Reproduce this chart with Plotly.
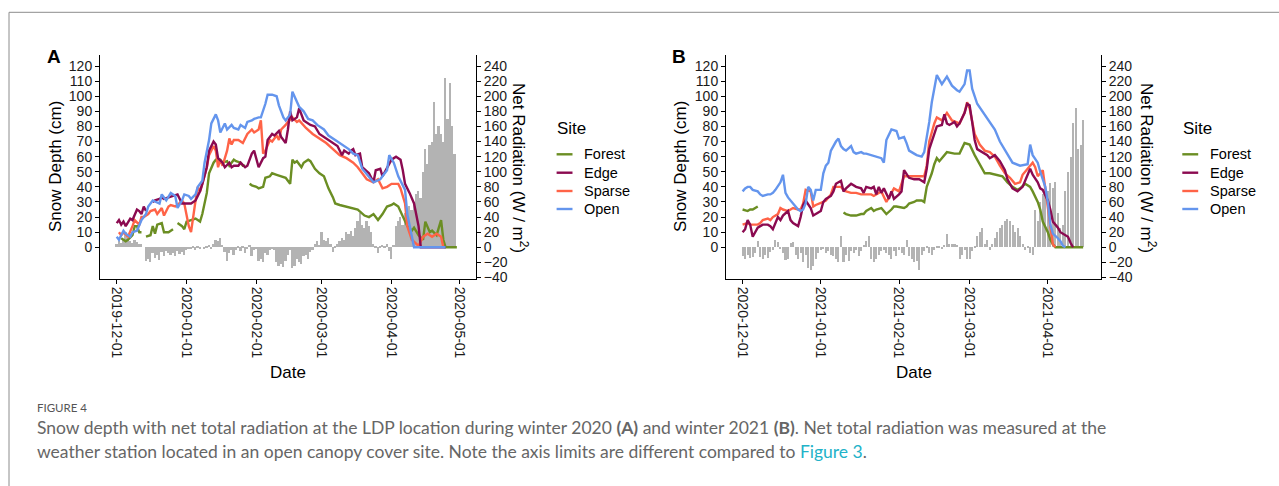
import pandas as pd
import plotly.graph_objects as go

W, H = 1279, 486

# ---------------- data ----------------
START_A = "2019-12-01"
START_B = "2020-12-01"

# daily net radiation (W/m2), one value per day from the start date
RAD_A = [5, 8, 6, 10, 20, 12, 8, 6, 10, 7, 5, 4, 0,
         -18, -15, -19, -8, -14, -10, -17, -6, -12, -5,
         -8, -10, -7, -12, -5, -9, -6, -10, -3,
         -2, -1, 2, -3, 1, -1, 0, -2, 2, 3, -1, 5,
         10, 8, 12, 3,
         -6, -18, -8, -4, -10,
         -3, 2, -5, 1, -8, -2, 3, -12, -4, -2,
         -18, -15, -20, -8, -10,
         -3, -1, -4,
         -20, -25, -22, -26, -18, -10, -3,
         -28, -25, -15, -20, -22,
         -12, -10, -15, -6, -3,
         5, 8, 3,
         20, 10, 8, 12,
         5, -6, 2,
         5, 8, 12, 10,
         20, 18, 22, 15, 25, 35,
         45, 30, 25,
         35, 28, 20,
         4, 2, -8,
         2, 3, 1, 4,
         -5, -15,
         3, 28,
         35, 40, 30,
         45, 40, 55, 50,
         60, 70, 75, 65,
         100, 130, 110,
         135, 140,
         193, 150, 160, 150, 140, 224, 170, 217, 160, 124]

RAD_B = [-12, -15, -10, -14, -13, -8, 8, -13, -15, -10,
         -14, -6, -3, 10, 7, -2, -8, -17, -15, 6,
         7, -10, -15, -8, -20, -10, -28, -30, -25, -15,
         -8, -3, -2, -8, -5, -10, -12, -15, -20, 15,
         -20, -10, -18, -5, -8, -3, -12, -5, 3, 8,
         15, -15, -20, -15, -10, -5, -3, -8, -10, -15,
         -5, -12, -3, -8, -10, 10, -12, -15, -20, -18,
         -30, -10, -5, 2, -8, -10, -3, 2, 1, -2,
         3, 18, 5, 5, 4, 3, -15, -10, -3, -15,
         -15, -5, 2, 15, 20, 25, 5, 10, -3, 5,
         12, 20, 25, 30, 35, 38, 35, 30, 20, 25,
         15, 5, -3, 2, -8, -10, 50, 35, 60, 70,
         80, 75, 85, 78, 87, 45, 25, 30, 75, 100,
         120, 165, 185, 130, 135, 168]

# snow depth (cm): (day since start, depth); None = missing
FOREST_A = [(2, 6), (4, 4), (5, 5), (7, 8), (8, 14), (9, 14), (10, 10), (11, 10), (12, None),
            (13, 7), (15, 8), (16, 14), (17, 9), (18, 15), (20, 16), (21, 10), (23, 10), (25, 12), (26, None),
            (27, 16), (29, 14), (30, 12), (31, 17), (33, 18), (35, 19), (37, 17), (38, 22), (40, 36),
            (41, 49), (43, 56), (44, 58), (46, 58), (47, 56), (49, 57), (50, 54), (52, 58), (53, 57),
            (55, 56), (56, 54), (57, 54), (58, None),
            (59, 42), (60, 41), (62, 40), (63, 39), (65, 40), (66, 46), (68, 47), (69, 49), (71, 48),
            (73, 47), (75, 46), (77, 42), (78, 58), (79, 56), (80, 57), (82, 53), (83, 56), (85, 58),
            (86, 57), (88, 52), (90, 49), (92, 47), (94, 39), (96, 33), (97, 29), (99, 28), (102, 27),
            (105, 26), (107, 25), (110, 21), (112, 20), (114, 22), (116, 18), (118, 22), (120, 27),
            (122, 28), (123, 29), (125, 27), (127, 21), (129, 14), (131, 11), (132, 13), (134, 8),
            (136, 5), (137, 17), (139, 10), (140, 11), (142, 8), (144, 18), (145, 5), (146, 0), (151, 0)]

EDGE_A = [(0, 16), (1, 18), (2, 15), (3, 17), (4, 14), (6, 19), (7, 18), (9, 25), (10, 24), (11, 22),
          (12, 27), (13, 24), (14, None), (16, 30), (17, 31), (19, 32), (20, 33), (21, 32), (23, 33),
          (26, 35), (27, 35), (29, 29), (31, 29), (33, 29), (35, 31), (37, 37), (38, 42), (40, 53),
          (41, 64), (43, 70), (44, 68), (45, 59), (47, 56), (48, 53), (50, 56), (51, 53), (52, 54),
          (54, 54), (55, 56), (57, 53), (58, 54), (60, 62), (61, 64), (62, 59), (63, 53), (65, 59),
          (66, 60), (67, 71), (69, 75), (70, 74), (72, 77), (73, 73), (75, 69), (76, 78), (77, 90),
          (78, 84), (80, 86), (81, 92), (83, 84), (86, 81), (88, 80), (90, 75), (92, 73), (94, 71),
          (96, 69), (98, 67), (100, 61), (101, 64), (103, 62), (104, 64), (105, 65), (106, 61),
          (108, 62), (109, 53), (112, 49), (114, 43), (115, 51), (117, 52), (118, 47), (120, 53),
          (122, 58), (124, 60), (126, 58), (127, 51), (128, 42), (130, 36), (132, 29), (134, 14),
          (135, 0), (146, 0)]

SPARSE_A = [(1, 10), (2, 8), (3, 10), (5, 7), (7, 14), (8, 18), (10, 15), (11, 20), (12, 20), (14, 22),
            (15, 24), (17, 25), (18, 22), (20, 26), (21, 21), (23, 27), (24, 28), (26, 27), (27, 28),
            (29, 31), (30, 29), (32, 14), (33, 10), (34, 22), (35, 31), (36, 40), (37, 37), (38, 42),
            (40, 53), (41, 61), (43, 67), (44, 64), (45, 53), (46, 58), (47, 54), (49, 64), (50, 72),
            (51, 68), (52, 71), (54, 71), (55, 70), (56, 69), (58, 75), (60, 78), (61, 76), (63, 78),
            (64, 84), (65, 62), (66, 64), (68, 71), (69, 70), (71, 74), (72, 71), (73, 78), (75, 81),
            (76, 83), (78, 86), (80, 83), (81, 84), (84, 79), (87, 75), (90, 72), (93, 69), (96, 65),
            (99, 61), (102, 59), (105, 56), (107, 53), (109, 49), (111, 45), (114, 43), (116, 45),
            (118, 39), (120, 40), (122, 42), (125, 42), (126, 39), (128, 29), (129, 14), (131, 5),
            (134, 1), (136, 7), (138, 9), (140, 7), (142, 9), (144, 7), (145, 0)]

OPEN_A = [(0, 7), (1, 5), (3, 11), (4, 9), (6, 7), (7, 10), (9, 11), (11, 18), (13, 22), (14, 27),
          (16, 31), (19, 29), (20, 35), (22, 31), (24, 36), (26, 34), (27, 26), (29, 31), (30, 35),
          (32, 34), (33, 32), (35, 35), (36, 40), (38, 44), (39, 56), (41, 71), (42, 82), (44, 88),
          (45, 84), (46, 76), (48, 82), (49, 78), (51, 81), (52, 79), (54, 78), (55, 81), (57, 79),
          (58, 83), (60, 84), (61, 85), (63, 86), (64, 86), (66, 95), (67, 101), (69, 101), (71, 100),
          (72, 94), (74, 86), (75, 84), (77, 88), (78, 103), (79, 100), (81, 93), (83, 90), (85, 85),
          (87, 84), (89, 81), (92, 78), (94, 74), (97, 71), (100, 68), (103, 65), (105, 62), (107, 61),
          (109, 52), (112, 47), (114, 43), (117, 45), (120, 51), (121, 61), (123, 56), (125, 47),
          (128, 38), (129, 22), (131, 7), (132, 0), (146, 0)]

FOREST_B = [(0, 25), (2, 24), (3, 25), (4, 25), (6, 27), (7, None),
            (40, 23), (41, 22), (43, 21), (44, 21), (45, 21), (47, 22), (48, 22), (49, 24), (51, 26),
            (52, 24), (53, 25), (55, 26), (56, 24), (57, 22), (59, 25), (60, 27), (61, 27), (63, 26),
            (64, 26), (65, 27), (66, 29), (68, 30), (69, 31), (71, 31), (72, 30), (73, 40), (75, 49),
            (76, 55), (77, 59), (78, 57), (81, 63), (84, 62), (86, 62), (88, 69), (90, 68), (92, 61),
            (94, 55), (96, 49), (98, 49), (101, 48), (103, 47), (105, 43), (107, 40), (109, 38),
            (110, 39), (112, 42), (114, 40), (115, 37), (117, 30), (118, 25), (119, 17), (121, 10),
            (122, 5), (123, 2), (124, 0), (135, 0)]

EDGE_B = [(0, 10), (1, 12), (2, 18), (3, 15), (4, 7), (6, 13), (7, 14), (8, 15), (10, 15), (11, 14),
          (12, 12), (14, 20), (15, 18), (16, 21), (18, 24), (19, 18), (20, 16), (22, 14), (23, 20),
          (24, 28), (25, 31), (27, 26), (28, 21), (29, 22), (31, 24), (32, 30), (33, 32), (35, 34),
          (36, 37), (37, 42), (39, 44), (40, 37), (41, 39), (43, 42), (44, 41), (45, 40), (47, 39),
          (48, 36), (49, 40), (51, 39), (52, 40), (53, 35), (54, 40), (55, 36), (56, 39), (58, 32),
          (59, 37), (60, 32), (62, 35), (63, 37), (64, 51), (66, 46), (68, 45), (70, 45), (72, 43),
          (73, 52), (74, 65), (76, 76), (77, 80), (79, 81), (80, 88), (81, 82), (82, 81), (84, 83),
          (85, 80), (86, 82), (88, 89), (89, 95), (90, 94), (91, 83), (92, 71), (93, 65), (95, 63),
          (97, 61), (98, 59), (100, 61), (102, 57), (104, 51), (105, 45), (107, 39), (109, 37),
          (111, 40), (113, 48), (114, 52), (115, 48), (117, 43), (118, 39), (119, 38), (121, 31),
          (122, 25), (123, 17), (125, 13), (126, 10), (127, 9), (129, 7), (130, 3), (131, 0)]

SPARSE_B = [(0, 15), (2, 16), (3, 15), (4, 15), (6, 15), (7, 16), (8, 18), (10, 19), (11, 18), (12, 20),
            (14, 22), (15, 26), (16, 25), (18, 24), (19, 25), (20, 26), (22, 25), (23, 25), (24, 29),
            (25, 38), (27, 37), (28, 27), (29, 28), (31, 29), (32, 30), (33, 31), (35, 35), (36, 40),
            (37, 40), (39, 40), (40, 38), (41, 37), (43, 36), (45, 36), (47, 35), (48, 35), (51, 35),
            (52, 34), (55, 37), (57, 30), (60, 39), (62, 37), (64, 47), (66, 47), (72, 47), (73, 54),
            (74, 70), (76, 82), (77, 86), (79, 84), (81, 89), (83, 84), (86, 82), (88, 89), (89, 96),
            (90, 92), (92, 75), (94, 68), (96, 64), (98, 63), (100, 60), (102, 54), (104, 49),
            (106, 46), (108, 42), (110, 43), (111, 48), (113, 52), (115, 56), (116, 53), (117, 47),
            (119, 51), (120, 39), (121, 27), (122, 12), (123, 2), (124, 0)]

OPEN_B = [(0, 37), (1, 39), (2, 40), (3, 40), (4, 38), (6, 37), (7, 35), (8, 34), (10, 35), (11, 35),
          (12, 36), (13, 38), (15, 43), (16, 48), (17, 36), (18, 33), (20, 29), (22, 25), (23, 24),
          (24, 25), (25, 29), (26, 40), (27, 38), (28, 31), (29, 38), (31, 38), (32, 49), (33, 54),
          (34, 56), (35, 64), (37, 70), (38, 72), (39, 67), (40, 65), (41, 64), (43, 67), (44, 63),
          (45, 62), (47, 63), (48, 62), (49, 62), (51, 61), (52, 60), (53, 60), (55, 59), (56, 56),
          (57, 71), (59, 78), (61, 77), (62, 72), (64, 73), (65, 69), (66, 64), (68, 62), (69, 61),
          (71, 60), (72, 63), (74, 83), (75, 96), (77, 114), (79, 108), (81, 113), (83, 107),
          (85, 104), (86, 103), (88, 108), (89, 117), (90, 117), (91, 105), (93, 95), (96, 88),
          (98, 83), (100, 78), (102, 70), (104, 64), (106, 58), (107, 56), (110, 54), (113, 55),
          (114, 68), (115, 61), (117, 56), (118, 50), (120, 40), (121, 30), (122, 15), (123, 9),
          (125, 6), (126, 4), (127, 1), (128, 0)]

SITES = ["Forest", "Edge", "Sparse", "Open"]
COLORS = {"Forest": "#6B8E23", "Edge": "#8B0A50", "Sparse": "#FF6347", "Open": "#6495ED"}
DRAW_ORDER = ["Forest", "Sparse", "Edge", "Open"]
SERIES_A = {"Forest": FOREST_A, "Edge": EDGE_A, "Sparse": SPARSE_A, "Open": OPEN_A}
SERIES_B = {"Forest": FOREST_B, "Edge": EDGE_B, "Sparse": SPARSE_B, "Open": OPEN_B}

TICKS_A = ["2019-12-01", "2020-01-01", "2020-02-01", "2020-03-01", "2020-04-01", "2020-05-01"]
TICKS_B = ["2020-12-01", "2021-01-01", "2021-02-01", "2021-03-01", "2021-04-01"]
SNOW_TICKS = list(range(0, 121, 10))
RAD_TICKS = list(range(-40, 241, 20))


# ---------------- helpers ----------------
def px(x):
    return x / W


def py(y):
    return 1 - y / H


def to_dates(start, days):
    s = pd.Timestamp(start)
    return [s + pd.Timedelta(days=d) for d in days]


FONT = "Liberation Sans, Arial, sans-serif"
CAP_FONT = "Lato, Open Sans, sans-serif"

fig = go.Figure()

panels = [
    dict(start=START_A, rad=RAD_A, series=SERIES_A, xa="x", yrad="y", ysnow="y2"),
    dict(start=START_B, rad=RAD_B, series=SERIES_B, xa="x2", yrad="y3", ysnow="y4"),
]

for p in panels:
    bar_dates = pd.date_range(p["start"], periods=len(p["rad"]), freq="D")
    fig.add_trace(go.Bar(
        x=bar_dates, y=p["rad"], xaxis=p["xa"], yaxis=p["yrad"],
        marker=dict(color="#B3B3B3", line=dict(width=0)),
        width=0.8 * 86400000, showlegend=False, hoverinfo="skip"))
    for site in DRAW_ORDER:
        pts = p["series"][site]
        days = [d for d, _ in pts]
        vals = [v for _, v in pts]
        fig.add_trace(go.Scatter(
            x=to_dates(p["start"], days), y=vals, mode="lines",
            xaxis=p["xa"], yaxis=p["ysnow"], connectgaps=False,
            line=dict(color=COLORS[site], width=2.4), name=site, showlegend=False))

ydom = [py(279), py(55)]
tickfont = dict(family=FONT, size=14, color="#1a1a1a")
common_axis = dict(showgrid=False, zeroline=False, showline=True, linecolor="black", linewidth=1,
                   ticks="outside", ticklen=4, tickwidth=1, tickcolor="black",
                   tickfont=tickfont, automargin=False)

fig.update_layout(
    width=W, height=H, margin=dict(l=0, r=0, t=0, b=0),
    paper_bgcolor="white", plot_bgcolor="rgba(0,0,0,0)",
    showlegend=False, bargap=0,
    xaxis=dict(domain=[px(100), px(476)], anchor="y", type="date",
               range=["2019-11-23 14:00", "2020-05-08 12:00"],
               tickvals=TICKS_A, ticktext=TICKS_A, tickangle=90, **common_axis),
    yaxis=dict(domain=ydom, anchor="x", side="right", range=[-42, 254.6],
               tickvals=RAD_TICKS, **common_axis),
    yaxis2=dict(overlaying="y", anchor="x", side="left", range=[-21, 127.3],
                tickvals=SNOW_TICKS, **common_axis),
    xaxis2=dict(domain=[px(726), px(1101)], anchor="y3", type="date",
                range=["2020-11-24 10:00", "2021-04-22 02:00"],
                tickvals=TICKS_B, ticktext=TICKS_B, tickangle=90, **common_axis),
    yaxis3=dict(domain=ydom, anchor="x2", side="right", range=[-42, 254.6],
                tickvals=RAD_TICKS, **common_axis),
    yaxis4=dict(overlaying="y3", anchor="x2", side="left", range=[-21, 127.3],
                tickvals=SNOW_TICKS, **common_axis),
)

ann = []
shapes = []


def text(x, y, s, size, xanchor="center", yanchor="middle", angle=0, color="black", family=FONT):
    ann.append(dict(x=px(x), y=py(y), xref="paper", yref="paper", text=s, showarrow=False,
                    xanchor=xanchor, yanchor=yanchor, textangle=angle,
                    font=dict(family=family, size=size, color=color)))


for lab, lab_x, left_title_x, right_title_x, xc, leg_x in [
        ("A", 54.5, 55, 520, 288, 555),
        ("B", 679, 680, 1148, 913.5, 1180.7)]:
    text(lab_x, 56, "<b>%s</b>" % lab, 19)
    text(left_title_x, 167, "Snow Depth (cm)", 17, angle=-90)
    text(right_title_x, 168, "Net Radiation (W / m<sup>2</sup>)", 17, angle=90)
    text(xc, 372, "Date", 17)
    # legend
    text(leg_x, 128, "Site", 17, xanchor="left")
    for i, site in enumerate(SITES):
        yy = [154.3, 172.7, 191, 209][i]
        shapes.append(dict(type="line", xref="paper", yref="paper",
                           x0=px(leg_x + 1.6), x1=px(leg_x + 17.5), y0=py(yy), y1=py(yy),
                           line=dict(color=COLORS[site], width=2.4)))
        text(leg_x + 27, yy, site, 14.5, xanchor="left")

# caption
text(35, 407, "FIGURE 4", 11.5, xanchor="left", color="#555", family=CAP_FONT)
text(35, 427, "Snow depth with net total radiation at the LDP location during winter 2020 <b>(A)</b> and "
              "winter 2021 <b>(B)</b>. Net total radiation was measured at the", 17.5,
     xanchor="left", color="#666", family=CAP_FONT)
text(35, 451, "weather station located in an open canopy cover site. Note the axis limits are different "
              "compared to <span style='color:#22B2C8'>Figure 3</span>.", 17.5,
     xanchor="left", color="#666", family=CAP_FONT)

# outer frame (left and top edges visible)
shapes.append(dict(type="path", xref="paper", yref="paper",
                   path="M %f,%f L %f,%f L %f,%f" % (px(9), py(486), px(9), py(12.3), px(1279), py(12.3)),
                   line=dict(color="#8c8c8c", width=1)))

fig.update_layout(annotations=ann, shapes=shapes)
fig.write_html("out.html")
